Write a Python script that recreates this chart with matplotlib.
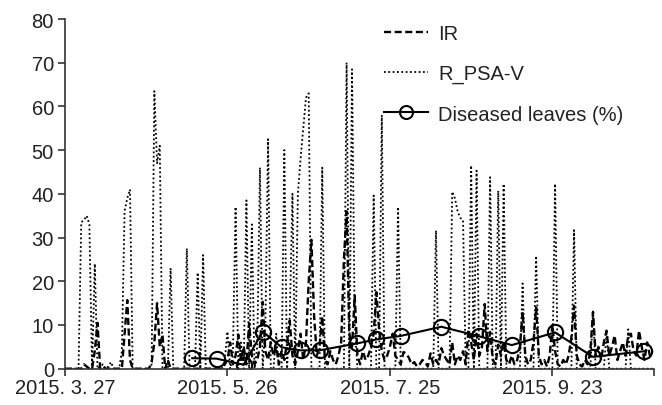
import matplotlib
matplotlib.use("Agg")
import matplotlib.pyplot as plt
import numpy as np
import datetime as dt

plt.rcParams['font.family'] = ['Liberation Sans', 'DejaVu Sans']

start_date = "2015-03-27"
end_date = "2015-10-30"

# daily values from 2015-03-27 (index 0)
r_psa_v = [
    0, 0, 0, 0, 0, 0, 33.5, 34, 35, 33,          # 0-9
    0, 24, 0, 0.5, 1, 0, 0.5, 1.5, 0, 0,          # 10-19
    0, 4, 36, 39, 41, 0, 0, 0, 0, 0,              # 20-29
    0, 0, 1, 63.5, 47, 51, 0, 0, 0, 23,           # 30-39
    0, 0, 0, 0, 0, 27.5, 0, 0, 0, 22,             # 40-49
    0, 26, 0, 0, 0, 0, 0, 0, 0, 2,                # 50-59
    8.5, 0, 3, 37, 0, 6, 0, 38.5, 0, 33,          # 60-69
    0, 5, 46, 0, 10, 52.5, 0, 0, 8, 0,            # 70-79
    0, 50, 0, 12, 40, 0, 40, 48, 55, 62,          # 80-89
    63, 0, 0, 0, 0, 46, 0, 0, 0, 0,               # 90-99
    0, 0, 0, 0, 70, 0, 68.5, 10, 0, 0,            # 100-109
    0, 0, 0, 0, 39.6, 0, 0, 58, 0, 0,             # 110-119
    0, 0, 0, 37, 0, 0, 0, 0, 0, 0,                # 120-129
    0, 0, 0, 0, 0, 0, 0, 31.6, 0, 0,              # 130-139
    0, 0, 0, 40.5, 39, 36, 34.5, 34, 0, 0,        # 140-149
    46.5, 0, 45.3, 0, 0, 0, 0, 43.8, 0, 0,        # 150-159
    40.7, 0, 42.3, 0, 0, 0, 0, 0, 0, 19.5,        # 160-169
    0, 0, 0, 0, 25.8, 0, 0, 0, 0, 0,              # 170-179
    0, 42.3, 0, 0, 0, 0, 0, 0, 31.7, 0,           # 180-189
    0, 0, 0, 0, 0, 13.3, 0, 0, 0, 0,              # 190-199
    8, 0, 0, 0, 0, 0, 0, 0, 9, 0,                 # 200-209
    0, 0, 0, 0, 0, 0, 0, 0,                       # 210-217
]

ir = [
    0, 0, 0, 0, 0, 0, 0, 1, 0.5, 0,               # 0-9
    0, 4, 10.5, 0, 0.5, 0, 0, 0.3, 0, 0,          # 10-19
    0, 0, 8, 15.7, 2, 0, 0, 0, 0, 0,              # 20-29
    0, 0, 1.5, 6, 15, 5, 7.8, 0, 2, 0,            # 30-39
    0, 0, 0, 0, 0, 0, 0, 0, 0, 0,                 # 40-49
    0, 0, 0, 0, 0, 0, 0, 0, 0, 1,                 # 50-59
    2, 6, 1, 3, 7.8, 2, 5, 1, 10.4, 3,            # 60-69
    1, 2, 5, 15.3, 4, 2, 6, 3, 5, 1,              # 70-79
    4, 2, 6, 11, 3, 1, 4, 8, 2, 6,                # 80-89
    20, 29.5, 12, 3, 5, 12, 2, 1, 4, 2,           # 90-99
    1, 3, 6, 25, 36, 8, 5, 16.7, 3, 1,            # 100-109
    4, 2, 3, 5, 8, 17.5, 9, 4, 2, 3,              # 110-119
    5, 8, 3, 2, 1, 3.8, 3.5, 2.5, 1, 1.5,         # 120-129
    0.5, 1, 2, 1.5, 0.5, 3.5, 1, 2, 1, 4.7,       # 130-139
    3, 2, 1, 6, 1, 3, 2, 4, 1, 9,                 # 140-149
    6, 2, 8, 3, 5, 14.8, 4, 8.4, 2, 1,            # 150-159
    5.5, 3, 6, 2, 1, 3, 1, 2, 5, 13,              # 160-169
    3, 1, 2, 6, 14, 3, 1, 2, 0.5, 3,              # 170-179
    10, 4, 1, 0.5, 2, 1, 3, 7, 14.4, 3,           # 180-189
    1, 0.5, 2, 1, 4, 13, 3, 5, 2, 6,              # 190-199
    8.7, 3, 5, 7.6, 2, 4, 6, 3, 7.6, 8,           # 200-209
    4, 3, 8.7, 5, 2, 6, 3, 4,                     # 210-217
]

diseased_dates = ["2015-05-13", "2015-05-22", "2015-06-01", "2015-06-08",
                  "2015-06-15", "2015-06-22", "2015-06-29", "2015-07-13",
                  "2015-07-20", "2015-07-29", "2015-08-13", "2015-08-27",
                  "2015-09-08", "2015-09-24", "2015-10-08", "2015-10-27"]
diseased = [2.4, 2.3, 0.9, 8.5, 4.9, 4.2, 4.2, 5.8,
            6.7, 7.5, 9.6, 7.4, 5.4, 8.3, 2.7, 4.0]

tick_dates = ["2015-03-27", "2015-05-26", "2015-07-25", "2015-09-23"]

t0 = dt.datetime.strptime(start_date, "%Y-%m-%d")
days = [t0 + dt.timedelta(days=i) for i in range(len(r_psa_v))]
ddates = [dt.datetime.strptime(s, "%Y-%m-%d") for s in diseased_dates]

fig = plt.figure(figsize=(6.62, 4.06), dpi=100)
ax = fig.add_axes([65/662, 1-369.7/406, (653.7-65)/662, (369.7-20)/406])

txt = '#222222'
fs = 14.5
ax.plot(days, ir, color='black', lw=1.7, linestyle=(0, (3, 1.5)), label='IR')
ax.plot(days, r_psa_v, color='black', lw=1.3, linestyle=(0, (1, 1.4)), label='R_PSA-V')
ax.plot(ddates, diseased, color='black', lw=1.5, marker='o', markersize=11,
        markerfacecolor='none', markeredgewidth=1.5, label='Diseased leaves (%)')

tend = dt.datetime.strptime(end_date, "%Y-%m-%d") + dt.timedelta(hours=10)
ax.set_xlim(t0, tend)
ax.set_ylim(0, 80)
ax.set_yticks(range(0, 81, 10))

tds = [dt.datetime.strptime(s, "%Y-%m-%d") for s in tick_dates]
ax.set_xticks(tds + [tend])
ax.set_xticklabels([f"{d.year}. {d.month}. {d.day}" for d in tds] + [""])

for s in ['top', 'right']:
    ax.spines[s].set_visible(False)
for s in ['left', 'bottom']:
    ax.spines[s].set_color('#333333')
    ax.spines[s].set_linewidth(1.2)
ax.tick_params(axis='both', direction='out', length=5, width=1.2, color='#333333',
               labelsize=fs, labelcolor=txt)
ax.tick_params(axis='x', pad=2)
ax.tick_params(axis='y', pad=3)

leg = ax.legend(loc='upper left', bbox_to_anchor=(384/662, 1-25/406),
                bbox_transform=fig.transFigure, frameon=False, fontsize=fs,
                handlelength=2.2, handletextpad=0.5, labelspacing=1.05,
                borderpad=0, borderaxespad=0, markerscale=0.85)
for t in leg.get_texts():
    t.set_color(txt)

fig.savefig("out.png", dpi=100)
